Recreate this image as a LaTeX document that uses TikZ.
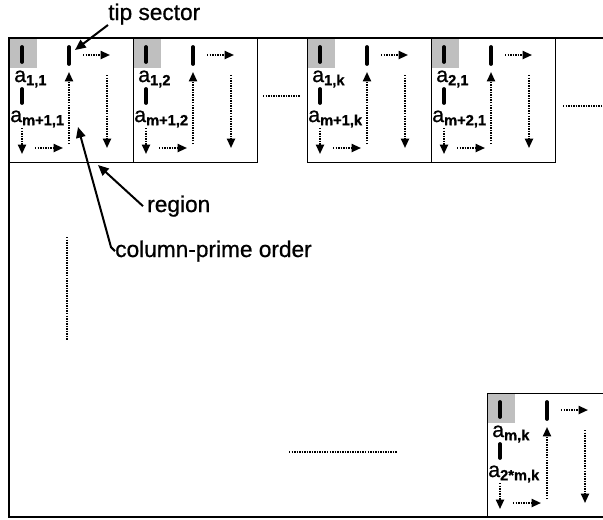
\documentclass[tikz,border=0pt]{standalone}
\usepackage{fontspec}
\setmainfont{Liberation Sans}
\newfontfamily\heavyfont{Liberation Sans}[FakeBold=0.8]
\usepackage{tikz}
\usetikzlibrary{arrows.meta,calc}

\definecolor{tipgray}{gray}{0.75}
\newcommand{\elem}[1]{a\raisebox{-2.4pt}{\fontsize{11}{12}\selectfont\bfseries #1}}

\tikzset{
    regionbox/.style={line width=0.75pt},
    frame/.style={line width=1.5pt},
    tipbar/.style={line width=2.8pt, line cap=round},
    dots/.style={line width=1.4pt, dash pattern=on 1.1pt off 0.8pt},
    flow/.style={dots, -{Triangle[length=7pt,width=6pt]}},
    callout/.style={line width=1.5pt, -{Triangle[length=8pt,width=7pt]}},
    lab/.style={font=\heavyfont\fontsize{17}{17}\selectfont, anchor=base west, inner sep=0pt},
    cell/.style={font=\heavyfont\fontsize{16}{16}\selectfont, anchor=base west, inner sep=0pt}
}

\begin{document}
\begin{tikzpicture}[x=0.75pt,y=-0.75pt]
    \clip (0,0) rectangle (603,519);

    \foreach \reg/\x/\y/\ta/\tb in {r1/9/38/{1,1}/{m+1,1}, r2/133/38/{1,2}/{m+1,2},
        rk/307/38/{1,k}/{m+1,k}, r21/431/38/{2,1}/{m+2,1}, rmk/487/393/{m,k}/{2*m,k}} {
        \begin{scope}[shift={(\x,\y)}]
            \fill[tipgray] (0,0) rectangle (28,30);
            \draw[regionbox] (0,0) rectangle (124,124);
            \draw[tipbar] (13,9) -- (13,24);
            \draw[tipbar] (13,51) -- (13,65);
            \draw[tipbar] (60,9) -- (60,26);
            \node[cell] (\reg-a) at (5,44) {\elem{\ta}};
            \node[cell] (\reg-b) at (1,84) {\elem{\tb}};
            \draw[flow] (13,90) -- (13,116);
            \draw[flow] (26,110) -- (54,110);
            \draw[flow] (74,17) -- (101,17);
            \draw[flow] (60,106) -- (60,34);
            \draw[flow] (98,37) -- (98,110);
        \end{scope}
    }

    \draw[frame] (603,38) -- (9,38) -- (9,517) -- (603,517);

    \draw[dots] (263,96) -- (300,96);
    \draw[dots] (563,106) -- (603,106);
    \draw[dots] (289,452) -- (397,452);
    \draw[dots] (67,237) -- (67,340);

    \coordinate (tipmark) at (75,50);
    \coordinate (regionmark) at (98,165);
    \coordinate (ordermark) at (78,127);
    \node[lab] (tiplabel) at (108,20) {tip sector};
    \node[lab] (regionlabel) at (147,212) {region};
    \node[lab] (orderlabel) at (115,257) {column-prime order};
    \draw[callout] (tiplabel.south west) -- (tipmark);
    \draw[callout] ([xshift=-3pt]regionlabel.west) -- (regionmark);
    \draw[callout] (orderlabel.west) -- ++(-4,-4) -- (ordermark);
\end{tikzpicture}
\end{document}
